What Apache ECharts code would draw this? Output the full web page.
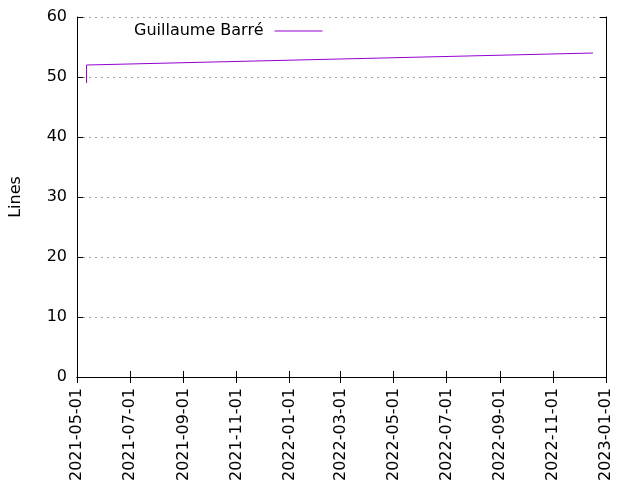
<!DOCTYPE html>
<html>
<head>
<meta charset="utf-8">
<script src="https://cdn.jsdelivr.net/npm/echarts@6/dist/echarts.min.js"></script>
<style>
  html, body { margin: 0; padding: 0; background: #fff; }
  #chart { width: 640px; height: 480px; }
</style>
</head>
<body>
<div id="chart"></div>
<script>
// data
var dates = ["2021-05-12", "2021-05-12", "2022-12-17"];
var lines = [49, 52, 54];
var seriesName = "Guillaume Barré";
var xTicks = ["2021-05-01", "2021-07-01", "2021-09-01", "2021-11-01", "2022-01-01",
              "2022-03-01", "2022-05-01", "2022-07-01", "2022-09-01", "2022-11-01", "2023-01-01"];

window.onload = () => {
    let font = "DejaVu Sans";
    let toTime = d => +new Date(d + "T00:00:00Z");
    let tickTimes = xTicks.map(toTime);
    let points = dates.map((d, i) => [toTime(d), lines[i]]);

    let fmt = v => {
        let d = new Date(v);
        let p = n => (n < 10 ? "0" : "") + n;
        return d.getUTCFullYear() + "-" + p(d.getUTCMonth() + 1) + "-" + p(d.getUTCDate());
    };

    var myChart = echarts.init(document.getElementById("chart"));
    var option = {
        animation: false,
        grid: { left: 77, right: 34, top: 17, bottom: 103, containLabel: false, outerBoundsMode: "none" },
        legend: {
            left: 134,
            top: 23,
            padding: 0,
            align: "right",
            icon: "path://M0,0L48,0L48,1L0,1Z",
            itemWidth: 48,
            itemHeight: 1,
            textStyle: { fontFamily: font, fontSize: 16, color: "#000", padding: [0, 6, 0, 0] },
            data: [seriesName]
        },
        xAxis: [{
            type: "value",
            min: tickTimes[0],
            max: tickTimes[tickTimes.length - 1],
            axisLine: { lineStyle: { color: "#000", width: 1 } },
            axisTick: { show: true, inside: true, length: 6, lineStyle: { color: "#000" }, customValues: tickTimes },
            axisLabel: {
                customValues: tickTimes,
                rotate: 90,
                margin: 11,
                fontFamily: font,
                fontSize: 16,
                color: "#000",
                formatter: fmt
            },
            splitLine: { show: false }
        }, {
            type: "value",
            position: "top",
            min: tickTimes[0],
            max: tickTimes[tickTimes.length - 1],
            axisLine: { show: true, lineStyle: { color: "#000", width: 1 } },
            axisTick: { show: true, inside: true, length: 6, lineStyle: { color: "#000" }, customValues: tickTimes },
            axisLabel: { show: false },
            splitLine: { show: false }
        }],
        yAxis: [{
            type: "value",
            name: "Lines",
            nameLocation: "middle",
            nameGap: 53,
            nameTextStyle: { fontFamily: font, fontSize: 16, color: "#000" },
            min: 0,
            max: 60,
            interval: 10,
            axisLine: { show: true, lineStyle: { color: "#000", width: 1 } },
            axisTick: { show: true, inside: true, length: 6, lineStyle: { color: "#000" } },
            axisLabel: { fontFamily: font, fontSize: 16, color: "#000", margin: 10 },
            splitLine: { show: true, lineStyle: { color: "#a0a0a0", type: [2, 4], width: 1 } }
        }, {
            type: "value",
            position: "right",
            min: 0,
            max: 60,
            interval: 10,
            axisLine: { show: true, lineStyle: { color: "#000", width: 1 } },
            axisTick: { show: true, inside: true, length: 6, lineStyle: { color: "#000" } },
            axisLabel: { show: false },
            splitLine: { show: false }
        }],
        series: [{
            name: seriesName,
            type: "line",
            data: points,
            showSymbol: false,
            symbol: "none",
            color: "#9400d3",
            lineStyle: { width: 1, color: "#9400d3" }
        }]
    };
    myChart.setOption(option);
};
</script>
</body>
</html>
